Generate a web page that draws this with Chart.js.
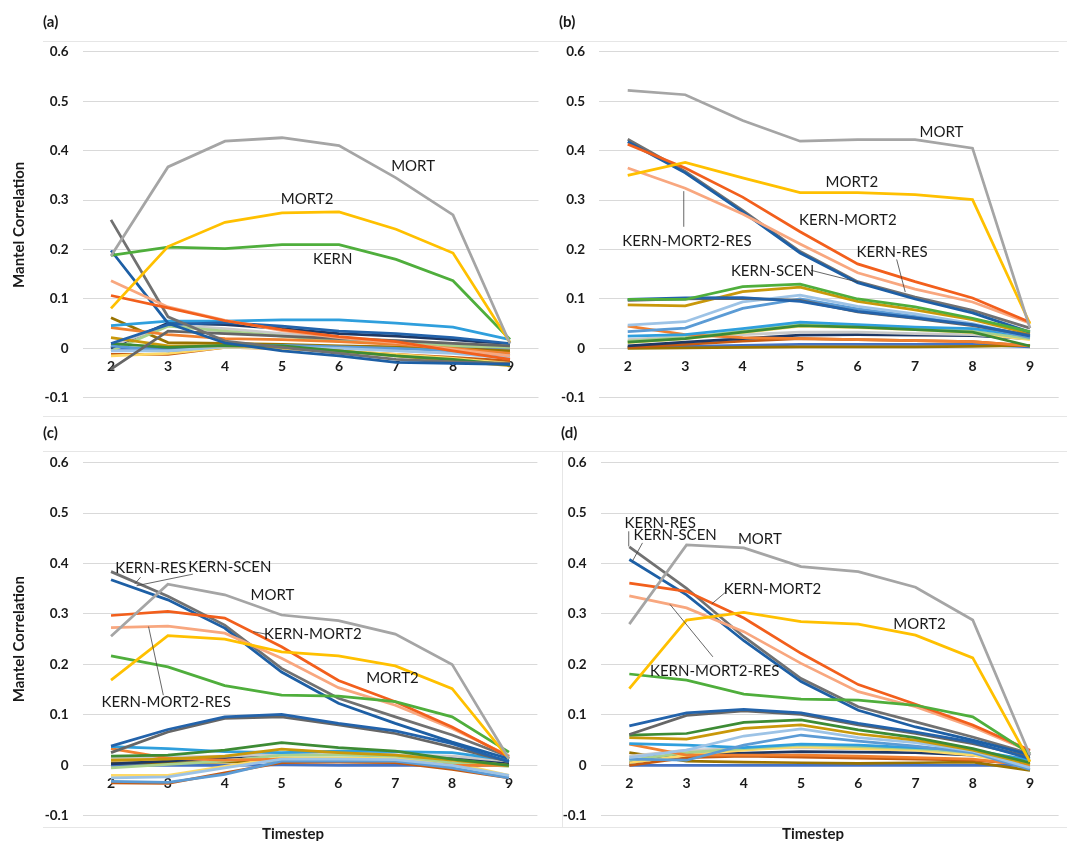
<!DOCTYPE html>
<html>
<head>
<meta charset="utf-8">
<script src="https://cdn.jsdelivr.net/npm/chart.js@4"></script>
<style>
  body { margin: 0; background: #fff; }
  #wrap { position: relative; width: 1067px; height: 841px; overflow: hidden; font-family: Lato, "Open Sans", sans-serif; }
  canvas { position: absolute; }
  .tag { position: absolute; font-weight: bold; font-size: 15px; color: #1a1a1a; }
  .xt { position: absolute; font-weight: bold; font-size: 15px; color: #1a1a1a; transform: translate(-50%, -50%); }
  .rule { position: absolute; background: #e6e6e6; }
</style>
</head>
<body>
<div id="wrap">
  <div class="rule" style="left:43px;top:41px;width:1024px;height:1px"></div>
  <div class="rule" style="left:43px;top:416px;width:1024px;height:1px"></div>
  <div class="rule" style="left:43px;top:451px;width:1024px;height:1px"></div>
  <div class="rule" style="left:43px;top:827px;width:1024px;height:1px"></div>
  <div class="rule" style="left:562px;top:451px;width:1px;height:376px"></div>
  <canvas id="cA" width="540" height="420" style="left:0;top:0"></canvas>
  <canvas id="cB" width="527" height="420" style="left:540px;top:0"></canvas>
  <canvas id="cC" width="540" height="421" style="left:0;top:420px"></canvas>
  <canvas id="cD" width="527" height="421" style="left:540px;top:420px"></canvas>
  <div class="tag" style="left:43px;top:12px">(a)</div>
  <div class="tag" style="left:559px;top:12px">(b)</div>
  <div class="tag" style="left:43px;top:423px">(c)</div>
  <div class="tag" style="left:561px;top:423px">(d)</div>
  <div class="xt" style="left:293px;top:833px">Timestep</div>
  <div class="xt" style="left:813px;top:833px">Timestep</div>
</div>
<script>
// timesteps on the x axis
const timesteps = ['2', '3', '4', '5', '6', '7', '8', '9'];
const yMin = -0.1, yMax = 0.6, yStep = 0.1;

const seriesNames = ['MORT', 'MORT2', 'KERN', 'KERN-MORT2', 'KERN-MORT2-RES', 'KERN-SCEN', 'KERN-RES',
  'V08', 'V09', 'V10', 'V11', 'V12', 'V13', 'V14', 'V15', 'V16', 'V17', 'V18', 'V19', 'V20', 'V21', 'V22'];
const seriesColors = ['#a5a5a5', '#ffc000', '#4fae3c', '#f25f1c', '#f8a77f', '#1d5fa5', '#717171',
  '#2363ab', '#666666', '#3d8b34', '#c9980a', '#9dc3e6', '#5b9bd5', '#2f9fdd', '#f08030', '#a9d18e',
  '#ffd966', '#c9c9c9', '#1f3864', '#c55a11', '#997300', '#4472c4'];

// one row per series (same order as seriesNames), values at timesteps 2..9
const panelA = [
  [0.187, 0.367, 0.419, 0.426, 0.41, 0.345, 0.27, 0.01],
  [0.081, 0.206, 0.255, 0.274, 0.276, 0.241, 0.193, 0.012],
  [0.188, 0.205, 0.202, 0.21, 0.21, 0.18, 0.137, 0.018],
  [0.107, 0.082, 0.056, 0.038, 0.024, 0.014, -0.005, -0.022],
  [0.137, 0.084, 0.057, 0.036, 0.022, 0.012, -0.002, -0.015],
  [0.198, 0.051, 0.011, -0.005, -0.015, -0.028, -0.03, -0.032],
  [0.26, 0.064, 0.015, 0.002, -0.01, -0.022, -0.027, -0.03],
  [0.01, 0.048, 0.052, 0.045, 0.035, 0.03, 0.022, 0.01],
  [-0.042, 0.035, 0.03, 0.025, 0.02, 0.016, 0.01, 0.005],
  [0.01, 0.002, 0.006, 0.005, -0.005, -0.015, -0.022, -0.033],
  [0.022, 0.005, 0.005, 0.002, -0.005, -0.015, -0.025, -0.035],
  [-0.005, -0.005, 0.003, 0.002, 0.0, -0.005, -0.01, -0.02],
  [0.005, -0.005, 0.005, 0.006, 0.003, 0.0, -0.005, -0.015],
  [0.046, 0.055, 0.055, 0.058, 0.058, 0.051, 0.043, 0.018],
  [0.042, 0.028, 0.02, 0.018, 0.014, 0.008, 0.0, -0.01],
  [-0.005, 0.045, 0.035, 0.025, 0.015, 0.01, 0.005, 0.002],
  [-0.015, -0.01, 0.002, 0.0, -0.005, -0.012, -0.02, -0.03],
  [0.005, 0.047, 0.04, 0.03, 0.022, 0.016, 0.01, 0.005],
  [0.001, 0.051, 0.048, 0.04, 0.03, 0.025, 0.018, 0.008],
  [-0.012, -0.012, 0.002, 0.0, -0.006, -0.012, -0.018, -0.025],
  [0.062, 0.012, 0.01, 0.008, 0.005, 0.003, 0.0, -0.005],
  [0.0, 0.0, 0.002, 0.002, 0.0, 0.0, 0.0, 0.0]
];
const panelB = [
  [0.522, 0.513, 0.461, 0.419, 0.422, 0.422, 0.405, 0.041],
  [0.35, 0.376, 0.345, 0.315, 0.315, 0.311, 0.301, 0.05],
  [0.099, 0.099, 0.125, 0.13, 0.1, 0.084, 0.061, 0.034],
  [0.413, 0.365, 0.306, 0.236, 0.171, 0.135, 0.102, 0.053],
  [0.365, 0.324, 0.272, 0.211, 0.153, 0.12, 0.094, 0.051],
  [0.418, 0.355, 0.276, 0.193, 0.133, 0.1, 0.072, 0.033],
  [0.423, 0.358, 0.279, 0.196, 0.135, 0.104, 0.077, 0.041],
  [0.099, 0.102, 0.103, 0.095, 0.075, 0.062, 0.048, 0.025],
  [0.097, 0.1, 0.101, 0.097, 0.074, 0.061, 0.046, 0.027],
  [0.013, 0.02, 0.033, 0.046, 0.043, 0.038, 0.033, 0.005],
  [0.088, 0.086, 0.115, 0.124, 0.095, 0.078, 0.058, 0.03],
  [0.047, 0.054, 0.094, 0.108, 0.085, 0.07, 0.05, 0.025],
  [0.034, 0.041, 0.081, 0.1, 0.08, 0.065, 0.048, 0.022],
  [0.025, 0.028, 0.04, 0.053, 0.048, 0.043, 0.04, 0.025],
  [0.045, 0.028, 0.022, 0.02, 0.018, 0.016, 0.014, 0.005],
  [0.015, 0.022, 0.035, 0.05, 0.046, 0.04, 0.035, 0.02],
  [0.012, 0.02, 0.032, 0.045, 0.042, 0.038, 0.032, 0.018],
  [0.018, 0.025, 0.028, 0.033, 0.033, 0.03, 0.028, 0.02],
  [0.005, 0.013, 0.02, 0.027, 0.028, 0.027, 0.026, 0.02],
  [0.002, 0.008, 0.015, 0.02, 0.018, 0.016, 0.014, 0.005],
  [0.0, 0.001, 0.002, 0.003, 0.003, 0.003, 0.004, 0.006],
  [0.002, 0.004, 0.006, 0.008, 0.008, 0.008, 0.008, 0.003]
];
const panelC = [
  [0.256, 0.359, 0.338, 0.298, 0.287, 0.26, 0.2, 0.013],
  [0.169, 0.257, 0.25, 0.225, 0.217, 0.197, 0.152, 0.013],
  [0.217, 0.195, 0.158, 0.139, 0.137, 0.126, 0.096, 0.026],
  [0.297, 0.305, 0.292, 0.235, 0.168, 0.126, 0.076, 0.017],
  [0.273, 0.276, 0.262, 0.212, 0.154, 0.119, 0.073, 0.019],
  [0.368, 0.328, 0.272, 0.185, 0.123, 0.083, 0.046, 0.013],
  [0.384, 0.335, 0.278, 0.192, 0.133, 0.096, 0.06, 0.017],
  [0.038, 0.071, 0.096, 0.101, 0.083, 0.068, 0.043, 0.007],
  [0.025, 0.066, 0.093, 0.096, 0.08, 0.063, 0.036, 0.007],
  [0.018, 0.02, 0.03, 0.045, 0.035, 0.028, 0.012, 0.0],
  [0.01, 0.012, 0.018, 0.032, 0.025, 0.02, 0.01, 0.0],
  [-0.025, -0.023, -0.005, 0.012, 0.012, 0.011, 0.0, -0.02],
  [-0.032, -0.034, -0.018, 0.008, 0.008, 0.008, -0.005, -0.025],
  [0.037, 0.033, 0.027, 0.025, 0.028, 0.027, 0.025, 0.01],
  [0.033, 0.014, 0.01, 0.012, 0.01, 0.008, 0.0, 0.0],
  [-0.005, 0.002, 0.008, 0.02, 0.02, 0.018, 0.005, -0.002],
  [-0.02, -0.02, -0.002, 0.015, 0.014, 0.013, 0.005, -0.02],
  [0.015, 0.016, 0.018, 0.022, 0.022, 0.02, 0.018, 0.008],
  [0.003, 0.008, 0.015, 0.022, 0.022, 0.02, 0.015, 0.005],
  [-0.035, -0.036, -0.015, 0.005, 0.006, 0.005, -0.008, -0.025],
  [0.005, 0.005, 0.006, 0.008, 0.007, 0.006, 0.004, 0.002],
  [0.0, 0.0, 0.0, 0.001, 0.0, 0.0, 0.0, 0.0]
];
const panelD = [
  [0.28, 0.437, 0.431, 0.394, 0.384, 0.353, 0.288, 0.02],
  [0.152, 0.288, 0.303, 0.285, 0.28, 0.258, 0.213, 0.007],
  [0.181, 0.169, 0.141, 0.131, 0.129, 0.119, 0.096, 0.023],
  [0.361, 0.345, 0.292, 0.222, 0.16, 0.121, 0.08, 0.03],
  [0.336, 0.312, 0.265, 0.202, 0.146, 0.116, 0.076, 0.028],
  [0.408, 0.338, 0.247, 0.166, 0.109, 0.076, 0.05, 0.021],
  [0.433, 0.351, 0.255, 0.172, 0.116, 0.086, 0.056, 0.023],
  [0.078, 0.104, 0.111, 0.104, 0.083, 0.066, 0.046, 0.013],
  [0.061, 0.099, 0.108, 0.101, 0.08, 0.063, 0.043, 0.017],
  [0.06, 0.063, 0.085, 0.09, 0.07, 0.055, 0.033, 0.005],
  [0.055, 0.052, 0.073, 0.08, 0.062, 0.05, 0.03, 0.002],
  [0.015, 0.03, 0.058, 0.072, 0.055, 0.045, 0.028, -0.005],
  [0.012, 0.01, 0.04, 0.06, 0.048, 0.038, 0.025, -0.008],
  [0.043, 0.04, 0.035, 0.042, 0.04, 0.035, 0.03, 0.01],
  [0.042, 0.02, 0.02, 0.02, 0.018, 0.015, 0.012, 0.0],
  [0.01, 0.025, 0.033, 0.04, 0.037, 0.033, 0.025, 0.005],
  [0.005, 0.02, 0.03, 0.037, 0.033, 0.03, 0.02, 0.0],
  [0.018, 0.03, 0.033, 0.035, 0.032, 0.03, 0.025, 0.012],
  [0.005, 0.022, 0.024, 0.027, 0.026, 0.025, 0.02, 0.013],
  [0.0, 0.015, 0.018, 0.016, 0.014, 0.012, 0.01, 0.002],
  [0.025, 0.008, 0.006, 0.005, 0.004, 0.005, 0.006, -0.01],
  [0.0, 0.0, 0.0, 0.0, 0.0, 0.0, 0.0, 0.0]
];

// text labels [text, timestep, value] and leader lines [t1, v1, t2, v2]
const notesA = { labels: [['MORT', 7.3, 0.369], ['MORT2', 5.44, 0.302], ['KERN', 5.89, 0.181]], leaders: [] };
const notesB = {
  labels: [['MORT', 7.46, 0.437], ['MORT2', 5.9, 0.337], ['KERN-MORT2', 5.83, 0.26],
    ['KERN-MORT2-RES', 3.03, 0.216], ['KERN-RES', 6.6, 0.194], ['KERN-SCEN', 4.52, 0.157]],
  leaders: [[2.975, 0.246, 2.975, 0.318], [6.68, 0.18, 6.83, 0.114], [5.19, 0.158, 6.01, 0.134]]
};
const notesC = {
  labels: [['KERN-RES', 2.7, 0.39], ['KERN-SCEN', 4.09, 0.392], ['MORT', 4.84, 0.338],
    ['KERN-MORT2', 5.55, 0.26], ['MORT2', 6.95, 0.172], ['KERN-MORT2-RES', 2.97, 0.125]],
  leaders: [[2.52, 0.373, 2.42, 0.36], [3.44, 0.379, 2.45, 0.356], [4.73, 0.26, 4.5, 0.265], [2.92, 0.139, 2.66, 0.275]]
};
const notesD = {
  labels: [['KERN-RES', 2.54, 0.48], ['KERN-SCEN', 2.8, 0.456], ['MORT', 4.28, 0.449],
    ['KERN-MORT2', 4.5, 0.35], ['MORT2', 7.07, 0.28], ['KERN-MORT2-RES', 3.49, 0.187]],
  leaders: [[1.99, 0.464, 1.99, 0.434], [2.23, 0.441, 2.06, 0.406], [3.7, 0.345, 3.44, 0.32], [3.46, 0.215, 2.71, 0.319]]
};

const notePlugin = {
  id: 'notes',
  afterDatasetsDraw(chart, args, opts) {
    const ctx = chart.ctx;
    const xs = chart.scales.x, ys = chart.scales.y;
    const px = t => xs.getPixelForValue(t - 2);
    ctx.save();
    ctx.strokeStyle = '#404040';
    ctx.lineWidth = 0.8;
    (opts.leaders || []).forEach(l => {
      ctx.beginPath();
      ctx.moveTo(px(l[0]), ys.getPixelForValue(l[1]));
      ctx.lineTo(px(l[2]), ys.getPixelForValue(l[3]));
      ctx.stroke();
    });
    ctx.font = '15px Lato';
    ctx.fillStyle = '#1a1a1a';
    ctx.textAlign = 'center';
    ctx.textBaseline = 'middle';
    (opts.labels || []).forEach(l => ctx.fillText(l[0], px(l[1]), ys.getPixelForValue(l[2])));
    ctx.restore();
  }
};

function makePanel(id, rows, notes, axisW, showTitle, pad) {
  new Chart(document.getElementById(id), {
    type: 'line',
    data: {
      labels: timesteps,
      datasets: rows.map((vals, i) => ({
        label: seriesNames[i],
        data: vals,
        borderColor: seriesColors[i],
        backgroundColor: seriesColors[i],
        borderWidth: 2.75,
        pointRadius: 0,
        tension: 0,
        fill: false
      }))
    },
    options: {
      responsive: false,
      animation: false,
      devicePixelRatio: 1,
      layout: { padding: pad },
      plugins: { legend: { display: false }, tooltip: { enabled: false }, notes: notes },
      scales: {
        x: {
          position: { y: 0 },
          offset: true,
          grid: { display: false, drawTicks: false },
          border: { display: false },
          ticks: { color: '#1a1a1a', padding: 10, font: { family: 'Lato', size: 14, weight: 'bold' } },
          afterFit: s => { s.height = 0; }
        },
        y: {
          min: yMin,
          max: yMax,
          ticks: {
            stepSize: yStep,
            color: '#1a1a1a',
            padding: 14,
            font: { family: 'Lato', size: 13.5, weight: 'bold' },
            callback: v => (Math.abs(v) < 1e-9 ? '0' : v.toFixed(1))
          },
          grid: { color: '#d9d9d9', lineWidth: 1, drawTicks: false },
          border: { display: false },
          title: { display: showTitle, text: 'Mantel Correlation', color: '#1a1a1a', font: { family: 'Lato', size: 15, weight: 'bold' } },
          afterFit: s => { s.width = axisW; }
        }
      }
    },
    plugins: [notePlugin]
  });
}

makePanel('cA', panelA, notesA, 76.5, true, { left: 6, right: 1.5, top: 51.7, bottom: 15.7 });
makePanel('cB', panelB, notesB, 50, false, { left: 9, right: 8.3, top: 51.7, bottom: 15.7 });
makePanel('cC', panelC, notesC, 76.6, true, { left: 6, right: 2.6, top: 42.7, bottom: 25.3 });
makePanel('cD', panelD, notesD, 50, false, { left: 10.7, right: 8.4, top: 42.7, bottom: 25.3 });
</script>
</body>
</html>
